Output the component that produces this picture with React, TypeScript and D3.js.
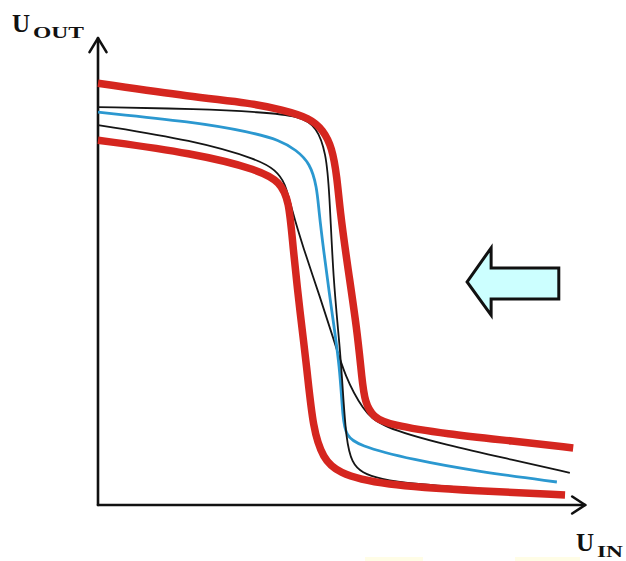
import React from 'react';
import * as d3 from 'd3';

const W = 626;
const H = 561;

// transfer curves, [U_IN, U_OUT] in arbitrary units (0..100)
const redOuterTop: [number, number][] = [
  [0, 91.7], [19.8, 88.7], [31.7, 87.4], [38.5, 85.9], [44.2, 84.1], [46.9, 81.5],
  [48.75, 77.8], [49.8, 71.3], [50.4, 64.1], [51.9, 52.6], [54.0, 38.0], [55.0, 27.2],
  [55.6, 22.4], [57.3, 19.1], [60.8, 17.4], [72.7, 15.4], [86.5, 13.9], [99.0, 12.4],
];
const blackSteep: [number, number][] = [
  [0, 86.5], [21.25, 86.1], [33.75, 85.4], [42.1, 84.6], [45.6, 82.2], [47.5, 76.5],
  [48.2, 68.5], [49.0, 48.9], [50.4, 34.3], [51.0, 25.0], [51.7, 14.1], [52.9, 9.1],
  [55.0, 7.0], [58.75, 5.65], [65.6, 4.57], [79.6, 3.48], [96.25, 2.39],
];
const blueMid: [number, number][] = [
  [0, 85.4], [19.8, 83.3], [31.7, 81.1], [37.9, 79.3], [41.25, 77.2], [44.2, 74.3],
  [45.6, 69.1], [46.0, 64.1], [46.9, 56.1], [48.75, 41.7], [50.4, 30.0], [51.0, 18.5],
  [51.7, 15.2], [53.9, 13.0], [65.6, 9.8], [79.6, 7.2], [95.6, 5.0],
];
const blackSoft: [number, number][] = [
  [0, 82.6], [19.8, 79.3], [33.75, 75.0], [36.9, 72.8], [39.0, 70.2], [40.4, 64.1],
  [42.7, 56.1], [46.25, 45.2], [48.96, 36.5], [51.5, 27.8], [55.2, 20.65], [58.75, 17.0],
  [72.7, 13.0], [86.5, 9.8], [98.3, 7.0],
];
const redOuterBottom: [number, number][] = [
  [0, 79.3], [19.8, 76.5], [33.75, 72.8], [37.9, 70.2], [39.8, 66.3], [40.6, 56.1],
  [42.1, 41.7], [43.5, 30.0], [44.8, 16.3], [46.9, 10.2], [49.8, 7.0], [58.75, 4.35],
  [79.6, 3.04], [97.3, 2.17],
];

const series = [
  { name: 'blackSoft', data: blackSoft, color: '#151515', width: 1.8 },
  { name: 'blue', data: blueMid, color: '#2b98d0', width: 2.8 },
  { name: 'blackSteep', data: blackSteep, color: '#151515', width: 1.8 },
  { name: 'redBottom', data: redOuterBottom, color: '#d5261f', width: 7.5 },
  { name: 'redTop', data: redOuterTop, color: '#d5261f', width: 7.5 },
];

// shift arrow (data units)
const arrowX = { tip: 76.9, head: 81.9, tail: 96.0 };
const arrowY = { mid: 48.5, headTop: 55.9, headBottom: 41.3, bodyTop: 51.5, bodyBottom: 44.8 };

const AXIS_END = 101.5;

export default function App() {
  const x = d3.scaleLinear().domain([0, 100]).range([98, 578]);
  const y = d3.scaleLinear().domain([0, 100]).range([505, 45]);

  const line = d3.line<[number, number]>()
    .x(d => x(d[0]))
    .y(d => y(d[1]))
    .curve(d3.curveBasis);

  const x0 = x(0), y0 = y(0);
  const yTip = y(AXIS_END), xTip = x(AXIS_END);

  const arrow = [
    [x(arrowX.tip), y(arrowY.mid)],
    [x(arrowX.head), y(arrowY.headTop)],
    [x(arrowX.head), y(arrowY.bodyTop)],
    [x(arrowX.tail), y(arrowY.bodyTop)],
    [x(arrowX.tail), y(arrowY.bodyBottom)],
    [x(arrowX.head), y(arrowY.bodyBottom)],
    [x(arrowX.head), y(arrowY.headBottom)],
  ].map(p => p.join(',')).join(' ');

  const serif = "'Liberation Serif', 'Times New Roman', serif";

  return (
    <svg width={W} height={H} style={{ position: 'absolute', left: 0, top: 0, background: '#fff' }}>
      {/* faint bands at the bottom of the slide */}
      <rect x={365} y={557} width={58} height={4} fill="#fffde6" />
      <rect x={515} y={557} width={65} height={4} fill="#fffde6" />

      {/* axes */}
      <g stroke="#111" strokeWidth={2.6} fill="none" strokeLinecap="round" strokeLinejoin="round">
        <line x1={x0} y1={y0} x2={x0} y2={yTip} />
        <line x1={x0} y1={y0} x2={xTip} y2={y0} />
        <polyline points={`${x0 - 8.5},${yTip + 14} ${x0},${yTip} ${x0 + 8.5},${yTip + 14}`} />
        <polyline points={`${xTip - 13},${y0 - 8.5} ${xTip},${y0} ${xTip - 13},${y0 + 8.5}`} />
      </g>

      {/* curves */}
      {series.map(s => (
        <path key={s.name} d={line(s.data) ?? ''} fill="none" stroke={s.color}
          strokeWidth={s.width} strokeLinecap="butt" strokeLinejoin="round" />
      ))}

      {/* shift arrow */}
      <polygon points={arrow} fill="#ccffff" stroke="#111" strokeWidth={3} strokeLinejoin="miter" />

      {/* labels */}
      <g fontFamily={serif} fontWeight="bold" fill="#111">
        <text x={12} y={32} fontSize={25}>U</text>
        <text x={33} y={38} fontSize={17} textLength={51} lengthAdjust="spacingAndGlyphs">OUT</text>
        <text x={576} y={551} fontSize={25}>U</text>
        <text x={597} y={557} fontSize={17} textLength={26} lengthAdjust="spacingAndGlyphs">IN</text>
      </g>
    </svg>
  );
}
